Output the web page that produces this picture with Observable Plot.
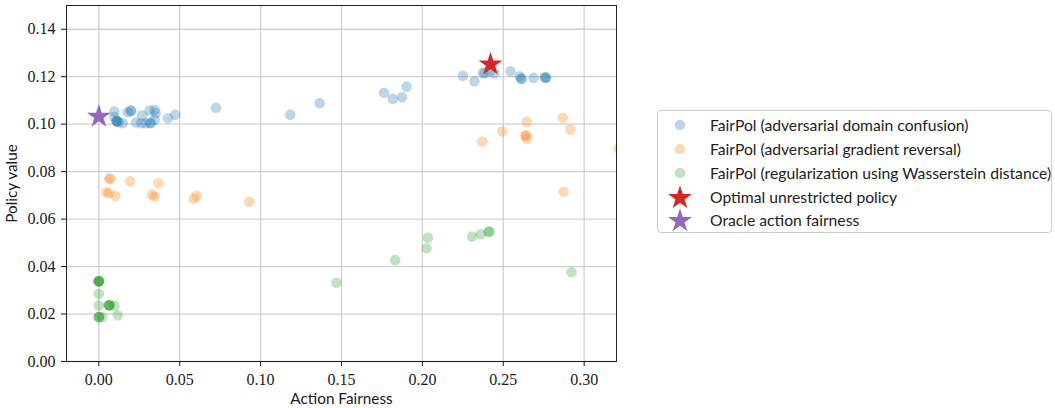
<!DOCTYPE html>
<html>
<head>
<meta charset="utf-8">
<script src="https://cdn.jsdelivr.net/npm/d3@7"></script>
<script src="https://cdn.jsdelivr.net/npm/@observablehq/plot@0.6"></script>
<style>
  html, body { margin: 0; padding: 0; background: #fff; }
  #wrap { position: relative; width: 1055px; height: 408px; }
  #legend { position: absolute; left: 657px; top: 110px; width: 395px; height: 123px; box-sizing: border-box;
    border: 1px solid #cccccc; border-radius: 4px; font-family: Lato, "DejaVu Sans", sans-serif; font-size: 15.7px; color: #222; }
  .item { position: absolute; left: 0; height: 22px; display: flex; align-items: center; }
  .item svg { width: 52px; height: 22px; }
  .item span { white-space: nowrap; }
</style>
</head>
<body>
<div id="wrap"><div id="chart"></div><div id="legend"></div></div>
<script>
// Series names
const seriesNames = [
  "FairPol (adversarial domain confusion)",
  "FairPol (adversarial gradient reversal)",
  "FairPol (regularization using Wasserstein distance)",
  "Optimal unrestricted policy",
  "Oracle action fairness"
];
const seriesColors = ["#1f77b4", "#ff7f0e", "#2ca02c", "#d62728", "#9467bd"];

// Adversarial domain confusion: [action fairness, policy value]
const domainConfusion = [
  [0.0096,0.1053],[0.0096,0.1030],[0.0110,0.1013],[0.0110,0.1013],[0.0112,0.1011],[0.0123,0.1008],
  [0.0148,0.1004],[0.0179,0.1050],[0.0200,0.1058],[0.0197,0.1055],[0.0230,0.1007],[0.0268,0.1037],
  [0.0262,0.1004],[0.0289,0.1004],[0.0314,0.1058],[0.0318,0.1004],[0.0320,0.1006],[0.0345,0.1060],
  [0.0351,0.1046],[0.0345,0.1018],[0.0427,0.1025],[0.0473,0.1040],[0.0724,0.1069],[0.1183,0.1040],
  [0.1365,0.1088],[0.1763,0.1132],[0.1817,0.1107],[0.1875,0.1113],[0.1902,0.1158],[0.2250,0.1204],
  [0.2322,0.1181],[0.2375,0.1217],[0.2385,0.1215],[0.2415,0.1222],[0.2446,0.1215],[0.2545,0.1223],
  [0.2601,0.1202],[0.2612,0.1190],[0.2612,0.1192],[0.2688,0.1195],[0.2757,0.1198],[0.2760,0.1196],
  [0.2767,0.1195]
];
// Adversarial gradient reversal
const gradientReversal = [
  [0.0069,0.0772],[0.0066,0.0768],[0.0194,0.0759],[0.0368,0.0751],[0.0045,0.0713],[0.0061,0.0709],
  [0.0102,0.0697],[0.0330,0.0704],[0.0345,0.0695],[0.0587,0.0686],[0.0604,0.0698],[0.0930,0.0673],
  [0.2370,0.0927],[0.2494,0.0970],[0.2645,0.1010],[0.2637,0.0951],[0.2640,0.0953],[0.2645,0.0938],
  [0.2868,0.1027],[0.2914,0.0978],[0.3212,0.0896],[0.2873,0.0715]
];
// Regularization using Wasserstein distance
const wasserstein = [
  [0,0.0338],[0,0.0338],[0,0.0338],[0,0.0338],[0,0.0338],[0,0.0285],[0,0.0236],
  [0.0065,0.0237],[0.0065,0.0237],[0.0065,0.0237],[0.0060,0.0237],[0.0096,0.0235],[0.0117,0.0195],
  [0,0.0187],[0,0.0187],[0,0.0187],[0.0020,0.0187],[0.1469,0.0332],[0.1831,0.0427],[0.2026,0.0477],
  [0.2034,0.0521],[0.2307,0.0527],[0.2361,0.0536],[0.2409,0.0546],[0.2415,0.0548],[0.2922,0.0376]
];
const optimalPolicy = [[0.2421, 0.1252]];
const oracleFairness = [[0, 0.1032]];

const xTicks = [0, 0.05, 0.10, 0.15, 0.20, 0.25, 0.30];
const yTicks = [0, 0.02, 0.04, 0.06, 0.08, 0.10, 0.12, 0.14];

const toRows = (arr, s) => arr.map(([x, y]) => ({x, y, s}));
const circles = [
  ...toRows(domainConfusion, seriesNames[0]),
  ...toRows(gradientReversal, seriesNames[1]),
  ...toRows(wasserstein, seriesNames[2])
];
const stars = [
  ...toRows(optimalPolicy, seriesNames[3]),
  ...toRows(oracleFairness, seriesNames[4])
];

const serif = '"Liberation Serif", "DejaVu Serif", serif';
const sans = 'Lato, "DejaVu Sans", sans-serif';
const fmt = d3.format(".2f");

const chart = Plot.plot({
  width: 640,
  height: 408,
  marginLeft: 66,
  marginRight: 24,
  marginTop: 5,
  marginBottom: 47,
  style: {fontFamily: sans, fontSize: "15.3px", color: "#1a1a1a", background: "#fff"},
  x: {domain: [-0.02, 0.32]},
  y: {domain: [0, 0.15]},
  color: {domain: seriesNames, range: seriesColors},
  marks: [
    Plot.ruleX(xTicks, {stroke: "#d0d0d0", strokeWidth: 1.3}),
    Plot.ruleY(yTicks, {stroke: "#d0d0d0", strokeWidth: 1.3}),
    Plot.dot(circles, {x: "x", y: "y", fill: "s", fillOpacity: 0.3, r: 5.3, clip: "frame"}),
    Plot.dot(stars, {x: "x", y: "y", fill: "s", symbol: "star", r: 7.5, clip: "frame"}),
    Plot.frame({stroke: "#222"}),
    Plot.axisX({ticks: xTicks, tickFormat: () => "", tickSize: 5, tickPadding: 4,
      label: "Action Fairness", labelAnchor: "center", labelArrow: "none", labelOffset: 42}),
    Plot.axisY({ticks: yTicks, tickFormat: () => "", tickSize: 5, tickPadding: 5,
      label: "Policy value", labelAnchor: "center", labelArrow: "none", labelOffset: 60}),
    // serif tick labels
    Plot.text(xTicks, {x: d => d, text: fmt, frameAnchor: "bottom", dy: 18, lineAnchor: "middle",
      fontFamily: serif, fontSize: 16, fill: "#1a1a1a"}),
    Plot.text(yTicks, {y: d => d, text: fmt, frameAnchor: "left", dx: -11, textAnchor: "end",
      lineAnchor: "middle", fontFamily: serif, fontSize: 16, fill: "#1a1a1a"})
  ]
});
document.getElementById("chart").appendChild(chart);

// Legend
const legendBox = document.getElementById("legend");
const rowTops = [3, 27, 51, 75, 98];
seriesNames.forEach((name, i) => {
  const item = document.createElement("div");
  item.className = "item";
  item.style.top = rowTops[i] + "px";
  let marker;
  if (i < 3) {
    marker = `<circle cx="22" cy="11" r="5.3" fill="${seriesColors[i]}" fill-opacity="0.3"/>`;
  } else {
    const p = d3.symbol(d3.symbolStar, Math.PI * 7.5 * 7.5)();
    marker = `<path transform="translate(22,12)" d="${p}" fill="${seriesColors[i]}"/>`;
  }
  item.innerHTML = `<svg>${marker}</svg><span>${name}</span>`;
  legendBox.appendChild(item);
});
</script>
</body>
</html>
